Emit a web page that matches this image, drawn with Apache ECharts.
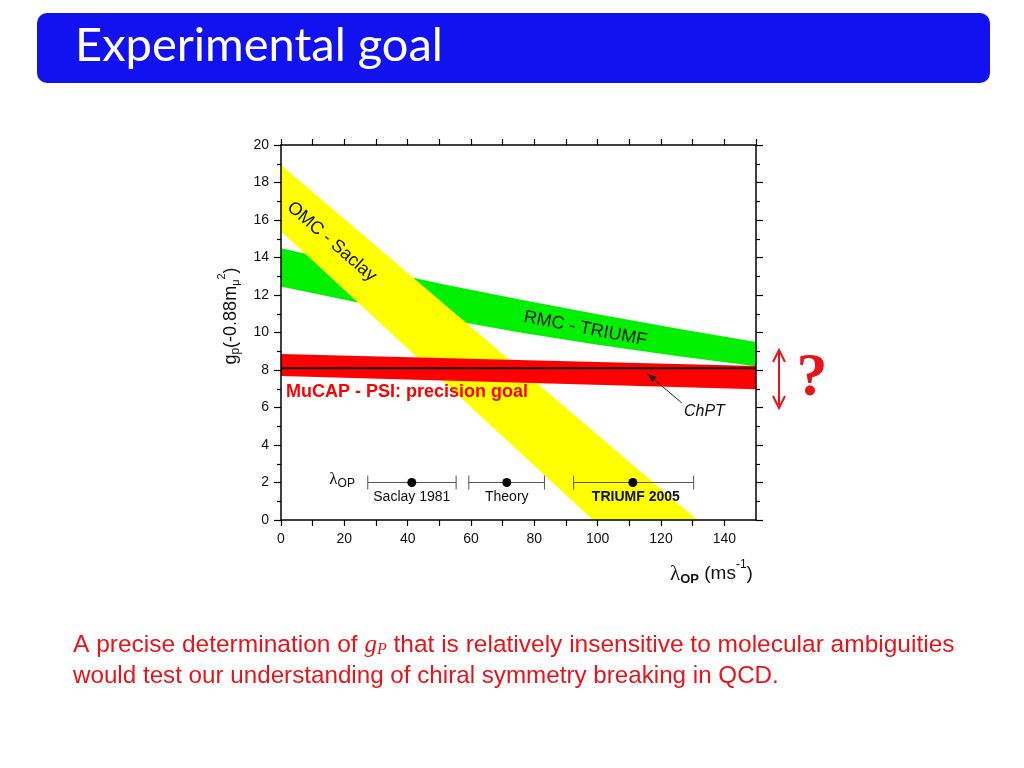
<!DOCTYPE html>
<html><head><meta charset="utf-8">
<script src="https://cdn.jsdelivr.net/npm/echarts@6/dist/echarts.min.js"></script>
<style>html,body{margin:0;padding:0;background:#fff}#c{width:1024px;height:768px}</style>
</head><body><div id="c"></div>
<script>
// ---------- data ----------
const xTickLabels = [0, 20, 40, 60, 80, 100, 120, 140];
const yTickLabels = [0, 2, 4, 6, 8, 10, 12, 14, 16, 18, 20];
const omcUpper = [[0, 18.93], [131.5, 0]];
const omcLower = [[0, 15.4], [98.5, 0]];
const rmcUpper = [[0, 14.5], [25, 13.55], [50, 12.62], [75, 11.78], [100, 10.98], [125, 10.22], [150, 9.5]];
const rmcLower = [[0, 12.45], [25, 11.58], [50, 10.77], [75, 10.02], [100, 9.35], [125, 8.75], [150, 8.2]];
const mucapUpper = [[0, 8.86], [150, 8.22]];
const mucapLower = [[0, 7.68], [150, 6.97]];
const chptLine = [[0, 8.1], [150, 8.1]];
const lambdaNames = ['Saclay 1981', 'Theory', 'TRIUMF 2005'];
const lambdaCenter = [41.3, 71.3, 111.1];
const lambdaLow = [27.4, 59.3, 92.4];
const lambdaHigh = [55.3, 83.2, 130.3];
const lambdaRowY = 2;

// ---------- styling ----------
const FONT = "'Liberation Sans', Arial, sans-serif";
const RED = '#e8141a';
const chart = echarts.init(document.getElementById('c'), null, {renderer: 'canvas'});

function band(upper, lower, color, z) {
  return {
    type: 'custom', coordinateSystem: 'cartesian2d', clip: true, z: z, silent: true,
    data: [upper[0]],
    renderItem: function (params, api) {
      const pts = upper.concat(lower.slice().reverse()).map(p => api.coord(p));
      return {type: 'polygon', shape: {points: pts}, style: {fill: color}};
    }
  };
}

const axisLine = {show: true, onZero: false, lineStyle: {color: '#000', width: 1.5}};
function xAx(pos, labels) {
  return {type: 'value', z: 10, min: 0, max: 150, interval: 10, position: pos,
    axisLine: axisLine,
    axisTick: {show: true, length: 6, lineStyle: {color: '#000', width: 1.2}},
    splitLine: {show: false},
    axisLabel: labels ? {formatter: v => xTickLabels.includes(v) ? String(v) : '', fontSize: 14, color: '#111', margin: 12, fontFamily: FONT, showMaxLabel: false} : {show: false}};
}
function yAx(pos, labels) {
  return {type: 'value', z: 10, min: 0, max: 20, interval: 2, position: pos,
    axisLine: axisLine,
    axisTick: {show: true, length: 7, lineStyle: {color: '#000', width: 1.2}},
    minorTick: {show: true, splitNumber: 2, length: 4, lineStyle: {color: '#000', width: 1.2}},
    splitLine: {show: false},
    axisLabel: labels ? {formatter: v => yTickLabels.includes(v) ? String(v) : '', fontSize: 14, color: '#111', margin: 12, fontFamily: FONT} : {show: false}};
}

const option = {
  animation: false,
  grid: {left: 281, top: 145, width: 475, height: 375, containLabel: false},
  xAxis: [xAx('bottom', true), xAx('top', false)],
  yAxis: [yAx('left', true), yAx('right', false)],
  series: [
    band(rmcUpper, rmcLower, '#00f000', 1),
    band(omcUpper, omcLower, '#ffff00', 2),
    band(mucapUpper, mucapLower, '#ff0000', 3),
    {type: 'line', data: chptLine, symbol: 'none', z: 4, silent: true,
     lineStyle: {color: '#111', width: 2}},
    {type: 'custom', coordinateSystem: 'cartesian2d', z: 5, silent: true,
     data: lambdaCenter.map((c, i) => [c, lambdaRowY, lambdaLow[i], lambdaHigh[i], i]),
     renderItem: function (params, api) {
       const y = api.value(1);
       const c = api.coord([api.value(0), y]);
       const l = api.coord([api.value(2), y]);
       const h = api.coord([api.value(3), y]);
       const i = api.value(4);
       const st = {stroke: '#555', lineWidth: 1};
       return {type: 'group', children: [
         {type: 'line', shape: {x1: l[0], y1: l[1], x2: h[0], y2: h[1]}, style: st},
         {type: 'line', shape: {x1: l[0], y1: l[1] - 7, x2: l[0], y2: l[1] + 7}, style: st},
         {type: 'line', shape: {x1: h[0], y1: h[1] - 7, x2: h[0], y2: h[1] + 7}, style: st},
         {type: 'circle', shape: {cx: c[0], cy: c[1], r: 4.5}, style: {fill: '#000'}},
         {type: 'text', x: c[0] + (i === 2 ? 3 : 0), y: c[1] + 15,
          style: {text: lambdaNames[i], align: 'center', verticalAlign: 'middle', fill: '#111',
                  font: (i === 2 ? 'bold ' : '') + '14px ' + FONT}}
       ]};
     }}
  ]
};
chart.setOption(option);

// ---------- annotations ----------
const ctx = document.createElement('canvas').getContext('2d');
function measure(t, font) { ctx.font = font; return ctx.measureText(t).width; }
function pieces(parts, x, y, opts) {
  opts = opts || {};
  let cx = 0;
  const children = [];
  parts.forEach(p => {
    const font = (p.style || 'normal') + ' ' + (p.weight || 'normal') + ' ' + p.size + 'px ' + (p.family || FONT);
    children.push({type: 'text', x: cx, y: p.dy || 0,
      style: {text: p.t, font: font, fill: p.color || opts.color || '#111', align: 'left', verticalAlign: 'middle'}});
    cx += measure(p.t, font);
  });
  const off = opts.align === 'center' ? -cx / 2 : 0;
  children.forEach(ch => ch.x += off);
  return {type: 'group', x: x, y: y, rotation: opts.rotation || 0, children: children, z: 100};
}
const px = p => chart.convertToPixel({gridIndex: 0}, p);

const omcPos = px([16.0, 14.84]);
const rmcPos = px([96.1, 10.2]);
const mucapPos = px([1.6, 6.83]);
const chptPos = px([133.7, 5.8]);
const arrowFrom = px([126.6, 6.24]);
const arrowTo = px([115.7, 7.8]);
const lamPos = px([19.3, 2.0]);
const ang = Math.atan2(arrowTo[1] - arrowFrom[1], arrowTo[0] - arrowFrom[0]);
const ah = 9, aw = 3.5;
const headPts = [
  arrowTo,
  [arrowTo[0] - ah * Math.cos(ang) + aw * Math.sin(ang), arrowTo[1] - ah * Math.sin(ang) - aw * Math.cos(ang)],
  [arrowTo[0] - ah * Math.cos(ang) - aw * Math.sin(ang), arrowTo[1] - ah * Math.sin(ang) + aw * Math.cos(ang)]
];

const lineBase = {size: 24.5};
const serif = "'Liberation Serif', 'Times New Roman', serif";

chart.setOption({
  graphic: [
    {type: 'rect', shape: {x: 37, y: 13, width: 953, height: 70, r: 10}, style: {fill: '#1212f0'}, z: 100},
    {type: 'text', x: 75, y: 46, style: {text: 'Experimental goal', font: '47px Lato, Carlito, sans-serif', fill: '#fff', verticalAlign: 'middle'}, z: 101},

    {type: 'text', x: omcPos[0], y: omcPos[1], rotation: -41 * Math.PI / 180,
     style: {text: 'OMC - Saclay', font: '18px ' + FONT, fill: '#111', align: 'center', verticalAlign: 'middle'}, z: 100},
    {type: 'text', x: rmcPos[0], y: rmcPos[1], rotation: -11 * Math.PI / 180,
     style: {text: 'RMC - TRIUMF', font: '18px ' + FONT, fill: '#111', align: 'center', verticalAlign: 'middle'}, z: 100},
    {type: 'text', x: mucapPos[0], y: mucapPos[1],
     style: {text: 'MuCAP - PSI: precision goal', font: 'bold 18px ' + FONT, fill: '#f00', align: 'left', verticalAlign: 'middle'}, z: 100},
    {type: 'text', x: chptPos[0], y: chptPos[1],
     style: {text: 'ChPT', font: 'italic 16px ' + FONT, fill: '#111', align: 'center', verticalAlign: 'middle'}, z: 100},
    {type: 'line', shape: {x1: arrowFrom[0], y1: arrowFrom[1], x2: arrowTo[0], y2: arrowTo[1]}, style: {stroke: '#222', lineWidth: 1}, z: 100},
    {type: 'polygon', shape: {points: headPts}, style: {fill: '#222'}, z: 100},
    pieces([{t: 'λ', size: 17, family: serif}, {t: 'OP', size: 12, dy: 4}], lamPos[0], lamPos[1] - 3, {align: 'center'}),

    // y axis name
    pieces([{t: 'g', size: 18}, {t: 'p', size: 12, dy: 5}, {t: '(-0.88m', size: 18}, {t: 'μ', size: 11, dy: 5}, {t: '2', size: 11, dy: -9}, {t: ')', size: 18}],
      231, 316, {align: 'center', rotation: Math.PI / 2}),
    // x axis name
    pieces([{t: 'λ', size: 21, family: serif}, {t: 'OP', size: 13, dy: 5, weight: 'bold'}, {t: ' (ms', size: 19}, {t: '-1', size: 12, dy: -9}, {t: ')', size: 19}],
      670, 574, {}),

    // question mark & double arrow
    {type: 'text', x: 812, y: 379, style: {text: '?', font: 'bold 62px ' + serif, fill: RED, align: 'center', verticalAlign: 'middle'}, z: 100},
    {type: 'line', shape: {x1: 779, y1: 352, x2: 779, y2: 405}, style: {stroke: RED, lineWidth: 2}, z: 100},
    {type: 'polyline', shape: {points: [[773, 362], [779, 350], [785, 362]]}, style: {stroke: RED, lineWidth: 2, fill: null}, z: 100},
    {type: 'polyline', shape: {points: [[773, 396], [779, 408], [785, 396]]}, style: {stroke: RED, lineWidth: 2, fill: null}, z: 100},

    // body text
    pieces([Object.assign({t: 'A precise determination of '}, lineBase),
            {t: 'g', size: 25, style: 'italic', family: serif},
            {t: 'P', size: 16, style: 'italic', family: serif, dy: 5},
            Object.assign({t: ' that is relatively insensitive to molecular ambiguities'}, lineBase)],
      73, 645, {color: RED}),
    pieces([Object.assign({t: 'would test our understanding of chiral symmetry breaking in QCD.'}, {size: 24.2})],
      73, 676, {color: RED})
  ]
});
</script></body></html>
